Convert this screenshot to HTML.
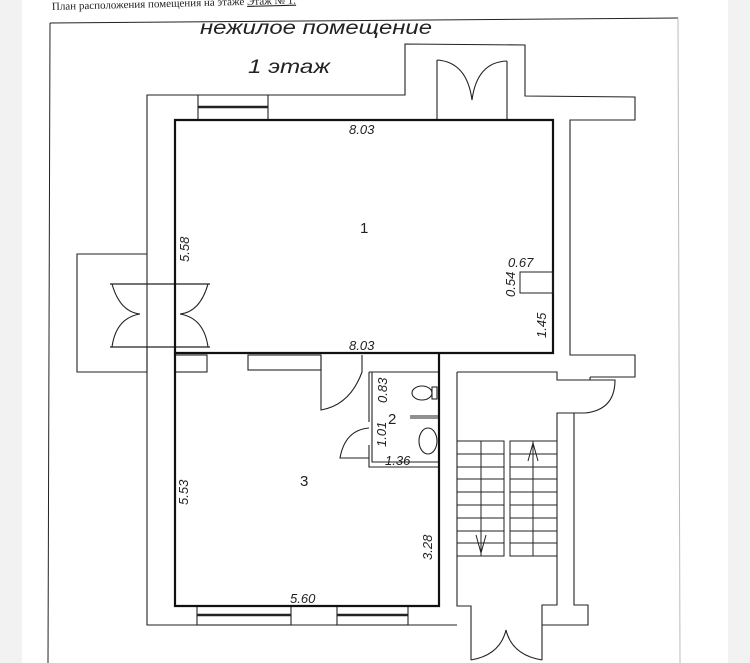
<!DOCTYPE html>
<html><head><meta charset="utf-8"><style>
html,body{margin:0;padding:0;background:#fff;}
svg{display:block;}
text{font-family:"Liberation Sans",sans-serif;fill:#222;}
</style></head><body>
<svg width="750" height="663" viewBox="0 0 750 663" xmlns="http://www.w3.org/2000/svg">
<rect x="0" y="0" width="750" height="663" fill="#fff"/>
<rect x="0" y="0" width="22" height="663" fill="#f2f2f2"/>
<rect x="728" y="0" width="22" height="663" fill="#f2f2f2"/>
<text x="52" y="10" font-size="11" transform="rotate(-1.5 52 10)" style="font-family:'Liberation Serif',serif">План расположения помещения на этаже <tspan text-decoration="underline">Этаж № 1.</tspan></text>
<g fill="none" stroke="#222" stroke-width="1">
<path d="M50 23 L678 18"/>
<path d="M50 23 L48 663"/>
<path d="M678 18 L680 663" stroke="#bbb"/>
</g>
<text x="200" y="34" font-size="19" textLength="232" lengthAdjust="spacingAndGlyphs" style="font-style:italic" fill="#333">нежилое помещение</text>
<text x="248" y="73" font-size="19" textLength="82" lengthAdjust="spacingAndGlyphs" style="font-style:italic" fill="#333">1 этаж</text>

<g fill="none" stroke="#222" stroke-width="1.1">
<path d="M147 372 L147 95 L405 95 L405 44 L525 45 L525 96 L635 97 L635 120 L570 120 L570 355 L635 355 L635 377 L590 377"/>
<path d="M437 120 L437 60"/><path d="M507 120 L507 61"/>
<path d="M437 60 Q467 62 472 100 Q477 62 507 61"/>
<path d="M198 95 L198 120 M268 95 L268 120"/>
<path d="M198 107 L268 107" stroke-width="2.5"/>
<path d="M147 254 L77 254 L77 372 L147 372"/>
<path d="M110 284 L210 284 M110 347 L210 347" stroke-width="1.3"/>
<path d="M112 284 Q120 312 140 314 Q116 318 112 347"/>
<path d="M208 284 Q200 312 180 314 Q204 318 208 347"/>
<rect x="175" y="355" width="32" height="17"/>
<path d="M147 347 L147 625 L197 625 M291 625 L337 625 M408 625 L457 625"/>
<rect x="197" y="606" width="94" height="19"/>
<path d="M197 615 L291 615" stroke-width="2.5"/>
<rect x="337" y="606" width="71" height="19"/>
<path d="M337 615 L408 615" stroke-width="2.5"/>
<rect x="248" y="355" width="73" height="15"/>
<path d="M321 355 L321 410 Q350 405 362 372 L362 355"/>
<path d="M369 372 L438 372 M369 372 L369 422 M369 445 L369 467 L438 467"/>
<path d="M372 372 L372 462 L438 462"/>
<path d="M369 428 Q345 430 340 458 L369 458"/>
<path d="M410 418 L438 418 M410 416 L438 416" stroke-width="1"/>
<ellipse cx="422" cy="393" rx="10" ry="7"/><rect x="432" y="387" width="5" height="12"/>
<ellipse cx="428" cy="441" rx="9" ry="13"/>
<path d="M439 355 L439 606"/>
<path d="M457 372 L457 606 L471 606 L471 660"/>
<path d="M457 372 L557 372 L557 380 L615 380 Q615 410 585 413 L557 413 L557 605 L542 605 L542 660"/>
<path d="M574 413 L574 605 L588 605 L588 625 L542 625"/>
<path d="M471 660 Q500 655 506 630 Q512 655 542 660"/>
<path d="M590 377 L590 380"/>
</g>
<g fill="none" stroke="#111" stroke-width="2.2">
<path d="M175 120 L553 120 L553 353 L175 353 Z"/>
<path d="M175 353 L175 606 L439 606 L439 353"/>
</g>
<g fill="none" stroke="#222" stroke-width="1">
<rect x="457" y="441" width="47" height="115"/>
<rect x="510" y="441" width="47" height="115"/>
<path d="M481 441 L481 556 M533 441 L533 556"/>
<path d="M457 454 L504 454 M457 467 L504 467 M457 479 L504 479 M457 492 L504 492 M457 505 L504 505 M457 518 L504 518 M457 531 L504 531 M457 543 L504 543"/>
<path d="M510 454 L557 454 M510 467 L557 467 M510 479 L557 479 M510 492 L557 492 M510 505 L557 505 M510 518 L557 518 M510 531 L557 531 M510 543 L557 543"/>
<path d="M476 535 L481 553 L486 535"/>
<path d="M528 461 L533 443 L538 461"/>
</g>
<rect x="520" y="272" width="33" height="21" fill="none" stroke="#222"/>
<g font-size="13" style="font-style:italic">
<text x="349" y="134">8.03</text>
<text x="349" y="350">8.03</text>
<text x="508" y="267">0.67</text>
<text x="290" y="603">5.60</text>
<text x="385" y="465">1.36</text>
<text transform="translate(189 262) rotate(-90)">5.58</text>
<text transform="translate(515 297) rotate(-90)">0.54</text>
<text transform="translate(546 338) rotate(-90)">1.45</text>
<text transform="translate(387 403) rotate(-90)">0.83</text>
<text transform="translate(386 447) rotate(-90)">1.01</text>
<text transform="translate(188 505) rotate(-90)">5.53</text>
<text transform="translate(432 560) rotate(-90)">3.28</text>
</g>
<g font-size="15" style="font-family:'Liberation Serif',serif">
<text x="360" y="233">1</text>
<text x="388" y="424">2</text>
<text x="300" y="486">3</text>
</g>
</svg>
</body></html>
